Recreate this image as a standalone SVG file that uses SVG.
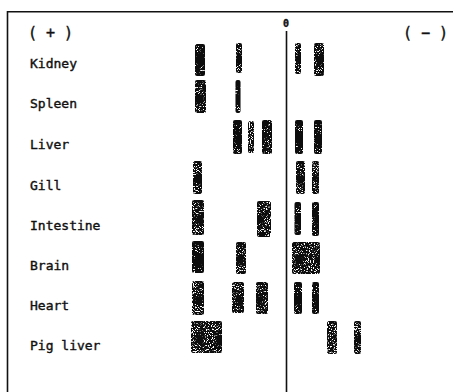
<svg xmlns="http://www.w3.org/2000/svg" width="453" height="392" viewBox="0 0 453 392">
<style>
text{font-family:"DejaVu Sans Mono","Liberation Mono",monospace;font-size:13px;fill:#111;stroke:#111;stroke-width:0.4}
.b{fill:#0a0a0a;filter:url(#sp)}
.l{fill:#0a0a0a;filter:url(#sl)}
.ln{stroke:#111;stroke-width:1.6;fill:none}
</style>
<defs>
<filter id="sp" x="-20%" y="-20%" width="140%" height="140%">
<feTurbulence type="fractalNoise" baseFrequency="0.95" numOctaves="1" seed="4" result="n"/>
<feColorMatrix in="n" type="matrix" values="0 0 0 0 0 0 0 0 0 0 0 0 0 0 0 -12 0 0 0 8.4" result="m"/>
<feComposite in="SourceGraphic" in2="m" operator="in"/>
</filter>
<filter id="sl" x="-20%" y="-20%" width="140%" height="140%">
<feTurbulence type="fractalNoise" baseFrequency="0.95" numOctaves="1" seed="9" result="n"/>
<feColorMatrix in="n" type="matrix" values="0 0 0 0 0 0 0 0 0 0 0 0 0 0 0 -12 0 0 0 7.8" result="m"/>
<feComposite in="SourceGraphic" in2="m" operator="in"/>
</filter>
</defs>
<rect width="453" height="392" fill="#fff"/>
<g id="frame">
<path class="ln" d="M7.5,392 V11.8 H453"/>
</g>
<g id="connectors">
<path class="ln" d="M286.5,31 V392"/>
</g>
<g id="axis-labels">
<text x="28" y="38" style="font-size:15px">( + )</text>
<text x="403" y="38" style="font-size:15px">( − )</text>
<text x="286" y="27" text-anchor="middle" style="font-size:10px;font-weight:bold">0</text>
</g>
<g id="kidney">
<text x="30" y="68">Kidney</text>
<rect class="b" x="195" y="44" width="10" height="32" rx="2"/>
<rect class="l" x="236" y="43" width="6" height="30" rx="2"/>
<rect class="l" x="295" y="43" width="6" height="31" rx="2"/>
<rect class="l" x="314" y="43" width="10" height="33" rx="2"/>
</g>
<g id="spleen">
<text x="30" y="108">Spleen</text>
<rect class="l" x="195" y="80" width="11" height="33" rx="2"/>
<rect class="b" x="235.5" y="80" width="5" height="33" rx="2"/>
</g>
<g id="liver">
<text x="30" y="149">Liver</text>
<rect class="b" x="233" y="120" width="9" height="34" rx="2"/>
<rect class="l" x="248" y="121" width="6" height="32" rx="2"/>
<rect class="b" x="262" y="120" width="10" height="34" rx="2"/>
<rect class="b" x="295" y="120" width="8" height="34" rx="2"/>
<rect class="b" x="314" y="120" width="8" height="34" rx="2"/>
</g>
<g id="gill">
<text x="30" y="190">Gill</text>
<rect class="l" x="193" y="161" width="9" height="33" rx="2"/>
<rect class="l" x="296" y="161" width="9" height="33" rx="2"/>
<rect class="l" x="312" y="161" width="7" height="33" rx="2"/>
</g>
<g id="intestine">
<text x="30" y="230">Intestine</text>
<rect class="l" x="192" y="200" width="12" height="35" rx="2"/>
<rect class="l" x="257" y="201" width="14" height="36" rx="2"/>
<rect class="b" x="294.5" y="202" width="6.5" height="33" rx="2"/>
<rect class="b" x="312" y="202" width="7" height="34" rx="2"/>
</g>
<g id="brain">
<text x="30" y="270">Brain</text>
<rect class="b" x="192" y="241" width="12" height="32" rx="2"/>
<rect class="l" x="236" y="242" width="10" height="32" rx="2"/>
<rect class="l" x="292" y="242" width="28" height="32" rx="2"/>
</g>
<g id="heart">
<text x="30" y="310">Heart</text>
<rect class="l" x="192" y="281" width="12" height="34" rx="2"/>
<rect class="l" x="232" y="282" width="12" height="31" rx="2"/>
<rect class="l" x="256" y="282" width="12" height="32" rx="2"/>
<rect class="b" x="294" y="282" width="8" height="32" rx="2"/>
<rect class="b" x="312" y="282" width="7" height="32" rx="2"/>
</g>
<g id="pig-liver">
<text x="30" y="350">Pig liver</text>
<rect class="l" x="191" y="321" width="31" height="32" rx="2"/>
<rect class="l" x="327" y="321" width="10" height="33" rx="2"/>
<rect class="l" x="354" y="321" width="7" height="33" rx="2"/>
</g>
</svg>
